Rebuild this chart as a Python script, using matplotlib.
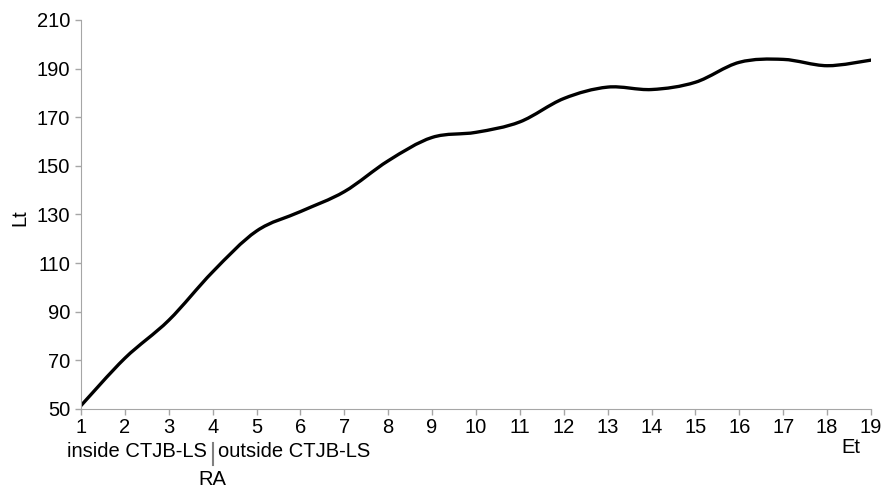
import matplotlib
matplotlib.use('Agg')
import matplotlib.pyplot as plt
from matplotlib.path import Path
from matplotlib.patches import PathPatch
from matplotlib import transforms

plt.rcParams['font.family'] = ['Liberation Sans', 'DejaVu Sans']

# data
et = [1, 2, 3, 4, 5, 6, 7, 8, 9, 10, 11, 12, 13, 14, 15, 16, 17, 18, 19]
lt = [51.4, 70.9, 86.5, 106.4, 123.2, 131.2, 139.4, 152.1, 161.7, 163.8,
      168.1, 177.7, 182.4, 181.4, 184.4, 192.6, 193.8, 191.2, 193.5]
yticks = [50, 70, 90, 110, 130, 150, 170, 190, 210]
ra_pos = 4

fs = 14.5

fig = plt.figure(figsize=(8.88, 4.88), dpi=100)
ax = fig.add_axes([81/888, 1-409/488, 790/888, 389/488])

# smoothed line (Excel style bezier through the points)
n = len(et)
verts = [(et[0], lt[0])]
codes = [Path.MOVETO]
for i in range(n-1):
    p0 = (et[max(i-1, 0)], lt[max(i-1, 0)])
    p1 = (et[i], lt[i])
    p2 = (et[i+1], lt[i+1])
    p3 = (et[min(i+2, n-1)], lt[min(i+2, n-1)])
    c1 = (p1[0]+(p2[0]-p0[0])/6, p1[1]+(p2[1]-p0[1])/6)
    c2 = (p2[0]-(p3[0]-p1[0])/6, p2[1]-(p3[1]-p1[1])/6)
    verts += [c1, c2, p2]
    codes += [Path.CURVE4]*3
ax.add_patch(PathPatch(Path(verts, codes), facecolor='none',
                       edgecolor='black', lw=2.4, capstyle='round'))

ax.set_xlim(1, 19)
ax.set_ylim(50, 210)
ax.set_xticks(et)
ax.set_yticks(yticks)
ax.tick_params(axis='both', labelsize=fs, colors='#a6a6a6',
               labelcolor='black', length=4.3, width=1)
ax.tick_params(axis='x', pad=2.5)
ax.tick_params(axis='y', pad=3.4)
for s in ['top', 'right']:
    ax.spines[s].set_visible(False)
for s in ['left', 'bottom']:
    ax.spines[s].set_color('#a6a6a6')

fig.text(20/888, 1-218/488, 'Lt', rotation=90, ha='center', va='center',
         fontsize=fs)

tr = transforms.blended_transform_factory(ax.transData, ax.transAxes)
ax.text(18.54, -0.100, 'Et', transform=tr, ha='center', va='center',
        fontsize=fs)
ax.annotate('inside CTJB-LS', xy=(ra_pos, -0.1105), xycoords=tr,
            xytext=(-4, 0), textcoords='offset points', ha='right',
            va='center', fontsize=fs)
ax.annotate('outside CTJB-LS', xy=(ra_pos, -0.1105), xycoords=tr,
            xytext=(4, 0), textcoords='offset points', ha='left',
            va='center', fontsize=fs)
ax.plot([ra_pos, ra_pos], [-0.0874, -0.144], transform=tr, color='#808080',
        lw=1.5, clip_on=False)
ax.text(ra_pos, -0.1825, 'RA', transform=tr, ha='center', va='center',
        fontsize=fs)

fig.savefig('out.png', dpi=100)
